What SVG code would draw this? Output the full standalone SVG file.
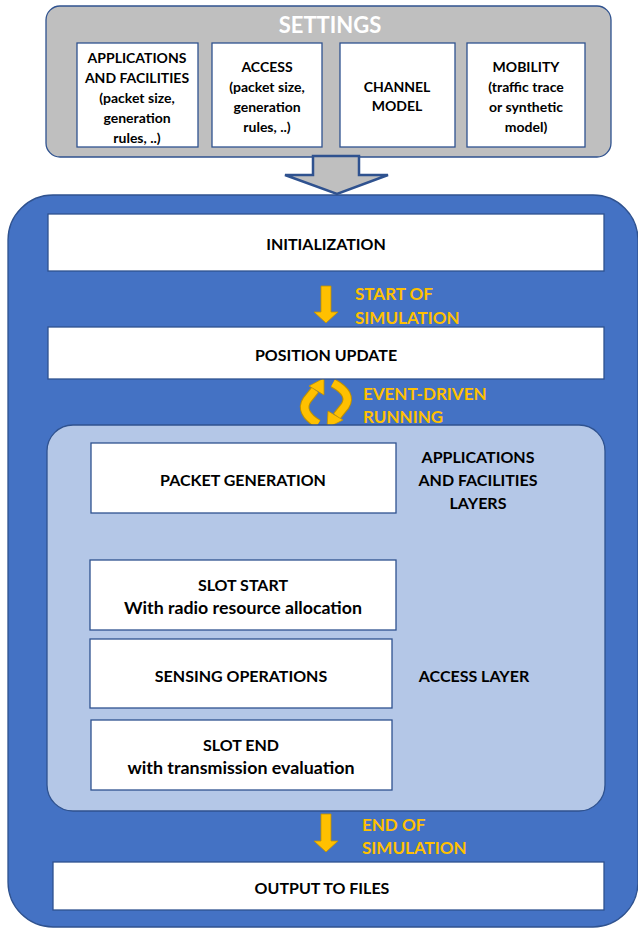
<svg xmlns="http://www.w3.org/2000/svg" width="638" height="929" viewBox="0 0 638 929">
<style>
.t{font-family:Lato,"Open Sans","Liberation Sans",sans-serif;font-weight:bold;fill:#000;text-anchor:middle;dominant-baseline:central}
.s{font-size:14px}
.m{font-size:16px}
.y{fill:#FFC000;text-anchor:start;font-size:17px}
.box{fill:#fff;stroke:#2F528F;stroke-width:1.3}
.ya{fill:#FFC000;stroke:#BF9000;stroke-width:0.8}
</style>
<rect width="638" height="929" fill="#fff"/>
<g id="settings">
<rect x="46" y="6" width="565" height="151" rx="14" fill="#BFBFBF" stroke="#2F528F" stroke-width="1.3"/>
<text class="t" x="330" y="24" style="font-size:22px;fill:#fff">SETTINGS</text>
</g>
<g id="set-app">
<rect class="box" x="77" y="43" width="121" height="104"/>
<text class="t s" x="137" y="57">APPLICATIONS</text>
<text class="t s" x="137" y="77">AND FACILITIES</text>
<text class="t s" x="137" y="97">(packet size,</text>
<text class="t s" x="137" y="117">generation</text>
<text class="t s" x="137" y="137">rules, ..)</text>
</g>
<g id="set-access">
<rect class="box" x="212" y="43" width="110" height="104"/>
<text class="t s" x="267" y="66">ACCESS</text>
<text class="t s" x="267" y="86">(packet size,</text>
<text class="t s" x="267" y="106">generation</text>
<text class="t s" x="267" y="126">rules, ..)</text>
</g>
<g id="set-channel">
<rect class="box" x="340" y="43" width="115" height="104"/>
<text class="t s" x="397" y="86">CHANNEL</text>
<text class="t s" x="397" y="105">MODEL</text>
</g>
<g id="set-mobility">
<rect class="box" x="467" y="43" width="118" height="104"/>
<text class="t s" x="526" y="66">MOBILITY</text>
<text class="t s" x="526" y="86">(traffic trace</text>
<text class="t s" x="526" y="106">or synthetic</text>
<text class="t s" x="526" y="126">model)</text>
</g>
<g id="container">
<rect x="8" y="195" width="630" height="732" rx="45" fill="#4472C4" stroke="#2F528F" stroke-width="1.3"/>
</g>
<g id="connectors">
<path d="M313,156 H359 V175 H388 L337,194 L285,175 H313 Z" fill="#BFBFBF" stroke="#2F528F" stroke-width="2.5" stroke-linejoin="miter"/>
<path class="ya" d="M321,286 H331 V312 H338 L326,323 L314,312 H321 Z"/>
<path class="ya" d="M321,814 H331 V841 H338 L326,852 L314,841 H321 Z"/>
<g id="cycle">
<path d="M318,424 Q299,412 307,400 L315,390" fill="none" stroke="#BF9000" stroke-width="9.5" stroke-linejoin="round"/>
<path d="M318,424 Q299,412 307,400 L315,390" fill="none" stroke="#FFC000" stroke-width="7.5" stroke-linejoin="round"/>
<polygon class="ya" points="324,378 324,395 309,386"/>
<path d="M333,383 Q353,394 345,406 L337,416" fill="none" stroke="#BF9000" stroke-width="9.5" stroke-linejoin="round"/>
<path d="M333,383 Q353,394 345,406 L337,416" fill="none" stroke="#FFC000" stroke-width="7.5" stroke-linejoin="round"/>
<polygon class="ya" points="327,428 328,411 343,420"/>
</g>
</g>
<g id="init">
<rect class="box" x="48" y="214" width="556" height="57"/>
<text class="t m" x="326" y="243">INITIALIZATION</text>
</g>
<g id="start-label">
<text class="t y" x="355" y="293">START OF</text>
<text class="t y" x="355" y="317">SIMULATION</text>
</g>
<g id="position">
<rect class="box" x="48" y="327" width="556" height="52"/>
<text class="t m" x="326" y="354">POSITION UPDATE</text>
</g>
<g id="event-label">
<text class="t y" x="363" y="393">EVENT-DRIVEN</text>
<text class="t y" x="363" y="416">RUNNING</text>
</g>
<g id="loop-panel">
<rect x="47" y="425" width="558" height="386" rx="26" fill="#B4C7E7" stroke="#2F528F" stroke-width="1.3"/>
</g>
<g id="packet-gen">
<rect class="box" x="91" y="443" width="305" height="70"/>
<text class="t m" x="243" y="479">PACKET GENERATION</text>
</g>
<g id="app-layers">
<text class="t m" x="478" y="456">APPLICATIONS</text>
<text class="t m" x="478" y="479">AND FACILITIES</text>
<text class="t m" x="478" y="502">LAYERS</text>
</g>
<g id="slot-start">
<rect class="box" x="90" y="560" width="306" height="70"/>
<text class="t m" x="243" y="584">SLOT START</text>
<text class="t m" x="243" y="607" style="font-size:17px" textLength="238" lengthAdjust="spacingAndGlyphs">With radio resource allocation</text>
</g>
<g id="sensing">
<rect class="box" x="90" y="639" width="302" height="69"/>
<text class="t m" x="241" y="675">SENSING OPERATIONS</text>
</g>
<g id="access-layer">
<text class="t m" x="474" y="675">ACCESS LAYER</text>
</g>
<g id="slot-end">
<rect class="box" x="91" y="720" width="301" height="70"/>
<text class="t m" x="241" y="744">SLOT END</text>
<text class="t m" x="241" y="767" style="font-size:17px" textLength="227" lengthAdjust="spacingAndGlyphs">with transmission evaluation</text>
</g>
<g id="end-label">
<text class="t y" x="362" y="824">END OF</text>
<text class="t y" x="362" y="847">SIMULATION</text>
</g>
<g id="output">
<rect class="box" x="53" y="862" width="551" height="48"/>
<text class="t m" x="322" y="887">OUTPUT TO FILES</text>
</g>
</svg>
